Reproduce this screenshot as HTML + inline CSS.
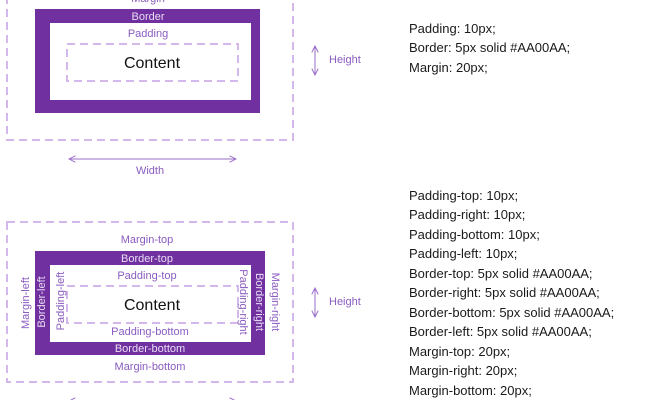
<!DOCTYPE html>
<html><head><style>
body{margin:0;width:650px;height:400px;background:#fff;overflow:hidden}
svg{display:block}
</style></head><body>
<svg width="650" height="400" xmlns="http://www.w3.org/2000/svg" font-family="Liberation Sans, sans-serif">
<defs>
<marker id="ah" viewBox="0 0 10 10" refX="9" refY="5" markerWidth="8" markerHeight="8" orient="auto-start-reverse"><path d="M1 1L9 5L1 9" fill="none" stroke="#9a6cc8" stroke-width="1.2"/></marker>
</defs>
<!-- Top diagram -->
<rect x="7" y="-10" width="286" height="150" fill="none" stroke="#d4b8ec" stroke-width="2" stroke-dasharray="8,5"/>
<text x="148" y="2" font-size="11" fill="#8a5cc0" text-anchor="middle">Margin</text>
<rect x="35" y="9" width="225" height="104" fill="#7030a0"/>
<rect x="50" y="23" width="201" height="77" fill="#fff"/>
<text x="148" y="20" font-size="11" fill="#e8ddf3" text-anchor="middle">Border</text>
<text x="148" y="37" font-size="11" fill="#8a5cc0" text-anchor="middle">Padding</text>
<rect x="67" y="44" width="171" height="37" fill="none" stroke="#d4b8ec" stroke-width="2" stroke-dasharray="8,5"/>
<text x="152" y="68" font-size="16" fill="#111" text-anchor="middle">Content</text>
<line x1="315" y1="46" x2="315" y2="75" stroke="#9a6cc8" marker-start="url(#ah)" marker-end="url(#ah)"/>
<text x="329" y="63" font-size="11" fill="#8a5cc0">Height</text>
<line x1="69" y1="159" x2="236" y2="159" stroke="#9a6cc8" marker-start="url(#ah)" marker-end="url(#ah)"/>
<text x="150" y="174" font-size="11" fill="#8a5cc0" text-anchor="middle">Width</text>
<!-- Bottom diagram -->
<rect x="7" y="222" width="286" height="160" fill="none" stroke="#d4b8ec" stroke-width="2" stroke-dasharray="8,5"/>
<text x="147" y="243" font-size="11" fill="#8a5cc0" text-anchor="middle">Margin-top</text>
<rect x="35" y="251" width="230" height="104" fill="#7030a0"/>
<rect x="50" y="265" width="201" height="77" fill="#fff"/>
<text x="147" y="262" font-size="11" fill="#e8ddf3" text-anchor="middle">Border-top</text>
<text x="147" y="279" font-size="11" fill="#8a5cc0" text-anchor="middle">Padding-top</text>
<rect x="67" y="286" width="171" height="37" fill="none" stroke="#d4b8ec" stroke-width="2" stroke-dasharray="8,5"/>
<text x="152" y="310" font-size="16" fill="#111" text-anchor="middle">Content</text>
<text x="150" y="335" font-size="11" fill="#8a5cc0" text-anchor="middle">Padding-bottom</text>
<text x="150" y="352" font-size="11" fill="#e8ddf3" text-anchor="middle">Border-bottom</text>
<text x="150" y="370" font-size="11" fill="#8a5cc0" text-anchor="middle">Margin-bottom</text>
<text transform="translate(29,303) rotate(-90)" font-size="11" fill="#8a5cc0" text-anchor="middle">Margin-left</text>
<text transform="translate(45,302) rotate(-90)" font-size="11" fill="#e8ddf3" text-anchor="middle">Border-left</text>
<text transform="translate(64,301) rotate(-90)" font-size="11" fill="#8a5cc0" text-anchor="middle">Padding-left</text>
<text transform="translate(240,302) rotate(90)" font-size="11" fill="#8a5cc0" text-anchor="middle">Padding-right</text>
<text transform="translate(256,302) rotate(90)" font-size="11" fill="#e8ddf3" text-anchor="middle">Border-right</text>
<text transform="translate(272,302) rotate(90)" font-size="11" fill="#8a5cc0" text-anchor="middle">Margin-right</text>
<line x1="315" y1="288" x2="315" y2="317" stroke="#9a6cc8" marker-start="url(#ah)" marker-end="url(#ah)"/>
<text x="329" y="305" font-size="11" fill="#8a5cc0">Height</text>
<line x1="69" y1="401" x2="236" y2="401" stroke="#9a6cc8" marker-start="url(#ah)" marker-end="url(#ah)"/>
<!-- Right text -->
<g font-size="13" fill="#1a1a1a">
<text x="409" y="33">Padding: 10px;</text>
<text x="409" y="52">Border: 5px solid #AA00AA;</text>
<text x="409" y="72">Margin: 20px;</text>
<text x="409" y="200">Padding-top: 10px;</text>
<text x="409" y="219">Padding-right: 10px;</text>
<text x="409" y="239">Padding-bottom: 10px;</text>
<text x="409" y="258">Padding-left: 10px;</text>
<text x="409" y="278">Border-top: 5px solid #AA00AA;</text>
<text x="409" y="297">Border-right: 5px solid #AA00AA;</text>
<text x="409" y="317">Border-bottom: 5px solid #AA00AA;</text>
<text x="409" y="336">Border-left: 5px solid #AA00AA;</text>
<text x="409" y="356">Margin-top: 20px;</text>
<text x="409" y="375">Margin-right: 20px;</text>
<text x="409" y="395">Margin-bottom: 20px;</text>
</g>
</svg>
</body></html>
